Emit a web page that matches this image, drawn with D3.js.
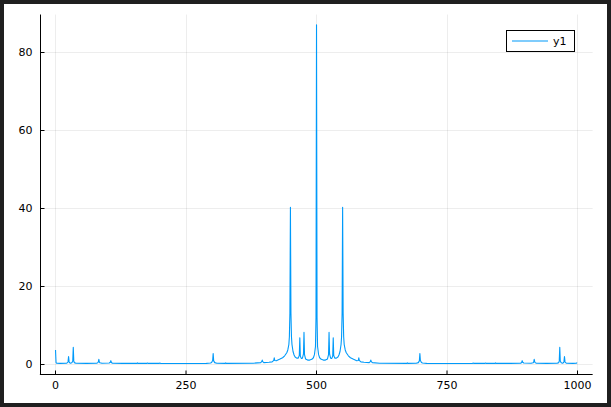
<!DOCTYPE html>
<html>
<head>
<meta charset="utf-8">
<script src="https://cdn.jsdelivr.net/npm/d3@7"></script>
<style>
  html, body { margin: 0; padding: 0; background: #1f1f1f; }
  svg { display: block; }
  text { font-family: "DejaVu Sans", sans-serif; }
</style>
</head>
<body>
<svg id="chart" width="611" height="407"></svg>
<script>
// Half spectrum (index 1..501); the right half mirrors it (k -> 1002 - k)
const halfX = [1,2,3,10,22,24,25,26,27,28,30,32,34,35,36,37,40,60,80,82,83,84,85,86,90,
  104,106,107,108,110,130,157,158,159,176,177,178,200,201,202,250,290,298,300,302,303,304,306,310,
  326,327,328,380,394,396,397,398,400,410,416,418,419,420,421,424,430,436,440,444,446,448,449,450,
  451,452,453,454,456,458,460,463,466,468,469,470,472,474,476,477,478,480,484,488,492,495,497,499,500,501];
const halfY = [3.6,0.4,0.2,0.15,0.2,0.35,0.6,1.9,0.6,0.3,0.2,0.3,0.7,4.3,0.8,0.35,0.2,0.15,0.2,0.35,0.6,1.2,0.5,0.3,0.2,
  0.25,0.45,0.85,0.4,0.2,0.15,0.15,0.3,0.15,0.15,0.25,0.15,0.15,0.25,0.15,0.12,0.15,0.25,0.4,0.9,2.7,0.8,0.35,0.2,
  0.15,0.3,0.15,0.2,0.35,0.6,1.0,0.6,0.35,0.45,0.55,0.8,0.9,1.6,0.9,0.85,1.2,1.6,2.1,2.9,3.6,5.0,7.0,13,
  40.2,13,7.0,5.0,3.2,2.3,1.8,1.5,1.5,2.2,6.7,2.0,1.4,1.5,2.6,8.1,2.4,1.3,1.0,1.0,1.2,1.6,2.4,4.5,12,87];
const seriesName = "y1";
const xTicks = [0, 250, 500, 750, 1000];
const yTicks = [0, 20, 40, 60, 80];
const xLimits = [-28.97, 1029.97];
const yLimits = [-2.61, 89.61];

(function () {
const points = halfX.map((xv, i) => ({x: xv, y: halfY[i]}));
const mirror = [];
for (let i = halfX.length - 2; i >= 1; i--) {
  const k = 1002 - halfX[i];
  if (k <= 1000) mirror.push({x: k, y: halfY[i]});
}
const data = points.concat(mirror).sort((a, b) => a.x - b.x);

const svg = d3.select("#chart");
svg.append("rect").attr("x", 4).attr("y", 4).attr("width", 603).attr("height", 399).attr("fill", "#ffffff");

const x = d3.scaleLinear().domain([0, 1000]).range([55, 577]);
const y = d3.scaleLinear().domain([0, 80]).range([364, 52]);
const pLeft = x(xLimits[0]), pRight = x(xLimits[1]);
const pTop = y(yLimits[1]), pBottom = y(yLimits[0]);

// grid
const grid = svg.append("g").attr("stroke", "#000").attr("stroke-opacity", 0.07).attr("stroke-width", 1);
xTicks.forEach(t => grid.append("line").attr("x1", Math.round(x(t)) + 0.5).attr("x2", Math.round(x(t)) + 0.5)
  .attr("y1", pTop).attr("y2", pBottom));
yTicks.forEach(t => grid.append("line").attr("y1", Math.round(y(t)) + 0.5).attr("y2", Math.round(y(t)) + 0.5)
  .attr("x1", pLeft).attr("x2", pRight));

// axes
const xAxis = d3.axisBottom(x).tickValues(xTicks).tickSizeInner(-4).tickSizeOuter(0).tickPadding(7).tickFormat(d3.format("d"));
const yAxis = d3.axisLeft(y).tickValues(yTicks).tickSizeInner(-4).tickSizeOuter(0).tickPadding(8).tickFormat(d3.format("d"));
const gx = svg.append("g").attr("transform", `translate(0,${Math.round(pBottom) + 0.5})`).call(xAxis);
const gy = svg.append("g").attr("transform", `translate(${Math.round(pLeft) + 0.5},0)`).call(yAxis);
[gx, gy].forEach(g => {
  g.select(".domain").remove();
  g.selectAll("text").attr("font-size", 11).attr("fill", "#000").attr("font-family", "DejaVu Sans, sans-serif");
  g.selectAll(".tick line").attr("stroke", "#000");
});
svg.append("line").attr("x1", pLeft).attr("x2", pRight).attr("y1", Math.round(pBottom) + 0.5).attr("y2", Math.round(pBottom) + 0.5).attr("stroke", "#000");
svg.append("line").attr("x1", Math.round(pLeft) + 0.5).attr("x2", Math.round(pLeft) + 0.5).attr("y1", pTop).attr("y2", pBottom).attr("stroke", "#000");

// series
const line = d3.line().x(d => x(d.x)).y(d => y(d.y));
svg.append("path").datum(data).attr("d", line).attr("fill", "none")
  .attr("stroke", "#009afa").attr("stroke-width", 1.1).attr("stroke-linejoin", "round");

// legend
const lg = svg.append("g");
lg.append("rect").attr("x", 506.5).attr("y", 30.5).attr("width", 68).attr("height", 21)
  .attr("fill", "#fff").attr("stroke", "#000").attr("stroke-width", 1);
lg.append("line").attr("x1", 512).attr("x2", 548).attr("y1", 41).attr("y2", 41).attr("stroke", "#009afa").attr("stroke-width", 1.1);
lg.append("text").attr("x", 553).attr("y", 45).attr("font-size", 11).attr("fill", "#000").text(seriesName);
})();
</script>
</body>
</html>
